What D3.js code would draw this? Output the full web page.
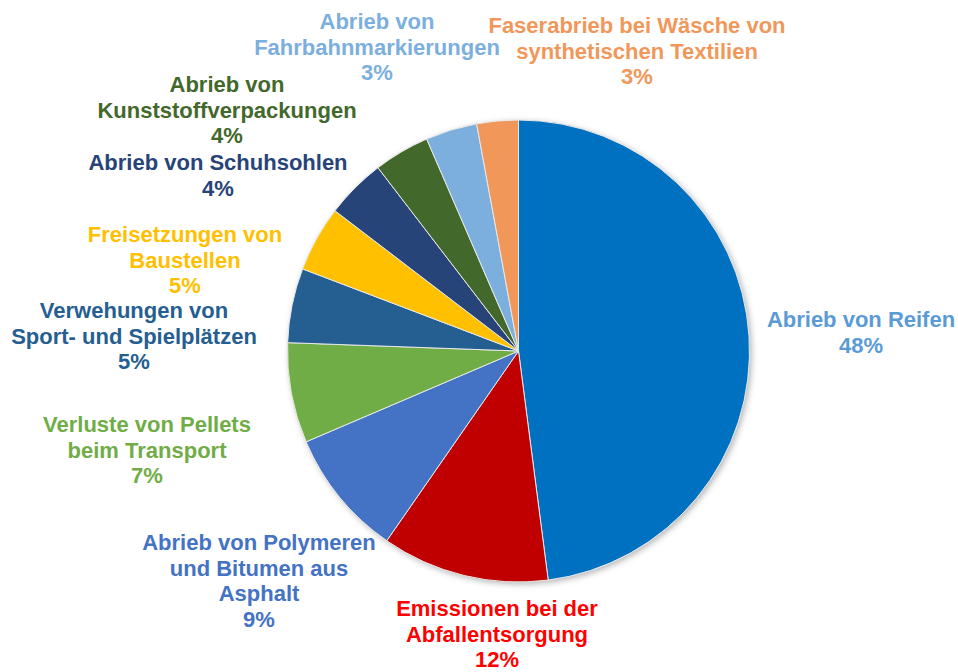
<!DOCTYPE html>
<html>
<head>
<meta charset="utf-8">
<script src="https://cdn.jsdelivr.net/npm/d3@7"></script>
<style>
  body { margin: 0; background: #fff; }
  svg { display: block; }
  text { font-family: Arial, "Liberation Sans", sans-serif; font-weight: bold; }
</style>
</head>
<body>
<svg id="chart"></svg>
<script>
// chart data (clockwise from 12 o'clock)
var categories = [
  'Abrieb von Reifen',
  'Emissionen bei der Abfallentsorgung',
  'Abrieb von Polymeren und Bitumen aus Asphalt',
  'Verluste von Pellets beim Transport',
  'Verwehungen von Sport- und Spielplätzen',
  'Freisetzungen von Baustellen',
  'Abrieb von Schuhsohlen',
  'Abrieb von Kunststoffverpackungen',
  'Abrieb von Fahrbahnmarkierungen',
  'Faserabrieb bei Wäsche von synthetischen Textilien'
];
var values = [47.9, 11.7, 8.9, 7.0, 5.2, 4.6, 4.2, 3.9, 3.6, 2.9];
var pct_labels = ['48%', '12%', '9%', '7%', '5%', '5%', '4%', '4%', '3%', '3%'];
// how each label is broken into lines
var label_lines = [
  ['Abrieb von Reifen'],
  ['Emissionen bei der', 'Abfallentsorgung'],
  ['Abrieb von Polymeren', 'und Bitumen aus', 'Asphalt'],
  ['Verluste von Pellets', 'beim Transport'],
  ['Verwehungen von', 'Sport- und Spielplätzen'],
  ['Freisetzungen von', 'Baustellen'],
  ['Abrieb von Schuhsohlen'],
  ['Abrieb von', 'Kunststoffverpackungen'],
  ['Abrieb von', 'Fahrbahnmarkierungen'],
  ['Faserabrieb bei Wäsche von', 'synthetischen Textilien']
];

var slice_colors = ['#0070c0', '#c00000', '#4472c4', '#70ad47', '#255e91',
  '#ffc000', '#264478', '#43682b', '#7cafdd', '#f1975a'];
var text_colors = ['#5b9bd5', '#ff0000', '#4472c4', '#70ad47', '#255e91',
  '#ffc000', '#264478', '#43682b', '#7cafdd', '#f1975a'];

// layout
var svg_width = 958,
  svg_height = 672,
  cx = 518.5,
  cy = 351,
  radius = 231,
  line_height = 25.5,
  font_size = 22;

// x center and baseline of first line for each label
var label_pos = [
  [861, 327], [497, 616], [259, 550], [147, 432], [134, 318],
  [185, 242], [218, 170], [227, 92], [377, 29], [637, 33]
];

var svg = d3.select('#chart')
  .attr('width', svg_width)
  .attr('height', svg_height);

var defs = svg.append('defs');
var filter = defs.append('filter')
  .attr('id', 'shadow')
  .attr('x', '-10%').attr('y', '-10%')
  .attr('width', '120%').attr('height', '120%');
filter.append('feDropShadow')
  .attr('dx', 2).attr('dy', 2)
  .attr('stdDeviation', 3)
  .attr('flood-color', '#000')
  .attr('flood-opacity', 0.3);

var pie = d3.pie().sort(null).value(function(d) { return d; });
var arc = d3.arc().innerRadius(0).outerRadius(radius);

var arcs = pie(values);

var pie_group = svg.append('g')
  .attr('transform', 'translate(' + cx + ',' + cy + ')');

// shadow disc beneath slices
pie_group.append('circle')
  .attr('r', radius)
  .attr('fill', '#fff')
  .attr('filter', 'url(#shadow)');

pie_group.selectAll('path')
  .data(arcs)
  .enter()
  .append('path')
  .attr('d', arc)
  .attr('fill', function(d, i) { return slice_colors[i]; })
  .attr('stroke', '#e8e8e8')
  .attr('stroke-width', 1);

// labels
var labels = svg.selectAll('.label')
  .data(categories)
  .enter()
  .append('text')
  .attr('class', 'label')
  .attr('text-anchor', 'middle')
  .attr('font-size', font_size)
  .attr('fill', function(d, i) { return text_colors[i]; })
  .attr('x', function(d, i) { return label_pos[i][0]; })
  .attr('y', function(d, i) { return label_pos[i][1]; });

labels.each(function(d, i) {
  var el = d3.select(this);
  var lines = label_lines[i].concat([pct_labels[i]]);
  lines.forEach(function(line, j) {
    el.append('tspan')
      .attr('x', label_pos[i][0])
      .attr('y', label_pos[i][1] + j * line_height)
      .text(line);
  });
});
</script>
</body>
</html>
